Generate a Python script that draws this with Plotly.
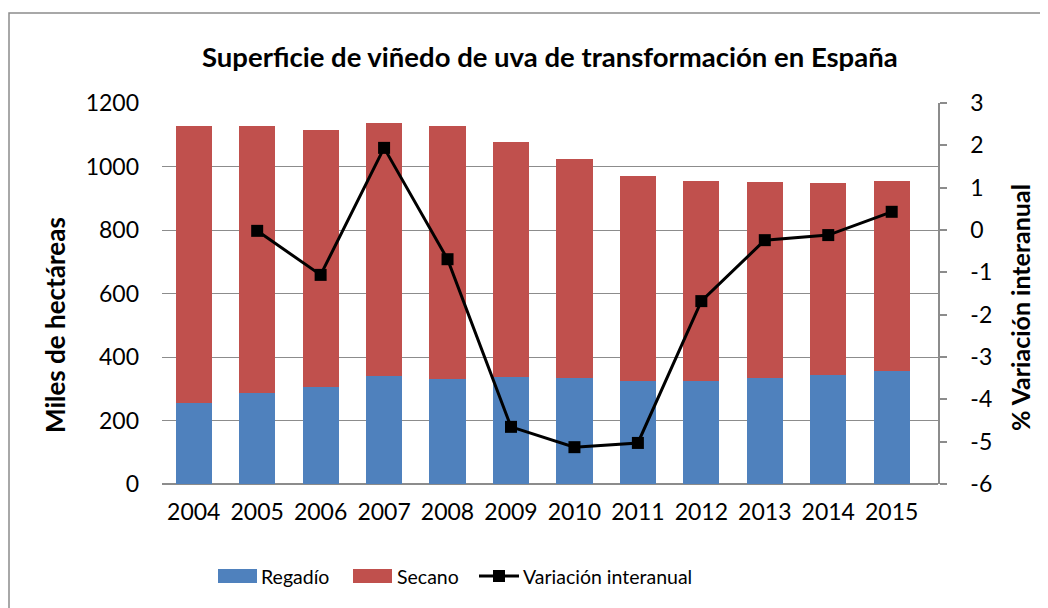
import plotly.graph_objects as go

years = ["2004", "2005", "2006", "2007", "2008", "2009", "2010", "2011", "2012", "2013", "2014", "2015"]
regadio = [255, 287, 305, 340, 331, 337, 334, 324, 324, 334, 343, 356]
total = [1128, 1128, 1115, 1137, 1128, 1077, 1024, 970, 954, 951, 948, 954]
secano = [t - r for t, r in zip(total, regadio)]
var_years = years[1:]
variacion = [-0.02, -1.06, 1.94, -0.69, -4.65, -5.13, -5.03, -1.68, -0.24, -0.12, 0.43]
y2_ticks = [3, 2, 1, 0, -1, -2, -3, -4, -5, -6]
y2_labels = ["3", "2", "1", "0", "-1", "-2", "-3", "-4", "-5", "-6"]

FONT = "Lato, Carlito, Calibri, sans-serif"
BLUE = "#4F81BD"
RED = "#C0504D"
GRID = "#8c8c8c"

# page body margin offsets the figure by 8px; figure sized to fill the window
OFF = 8
FW, FH = 1048 - OFF, 608 - OFF
# plot area in window pixels
L, R, T, B = 162, 938, 103, 484
W, H = R - L, B - T


def px(x):
    return (x - L) / W


def py(y):
    return (B - y) / H


fig = go.Figure()
fig.add_trace(go.Bar(x=years, y=regadio, name="Regadío", marker=dict(color=BLUE, line=dict(width=0))))
fig.add_trace(go.Bar(x=years, y=secano, name="Secano", marker=dict(color=RED, line=dict(width=0))))
fig.add_trace(go.Scatter(x=var_years, y=variacion, name="Variación interanual", yaxis="y2",
                         mode="lines+markers",
                         line=dict(color="black", width=3),
                         marker=dict(symbol="square", size=12, color="black")))

fig.update_layout(
    width=FW, height=FH,
    barmode="stack", bargap=0.43,
    paper_bgcolor="white", plot_bgcolor="white",
    margin=dict(l=L - OFF, r=1048 - R, t=T - OFF, b=608 - B, autoexpand=False),
    font=dict(family=FONT, size=23, color="black"),
    showlegend=False,
    xaxis=dict(showgrid=False, showline=False, ticks="", automargin=False,
               ticklabelstandoff=12, tickfont=dict(size=23)),
    yaxis=dict(range=[0, 1200], dtick=200, showgrid=True, gridcolor=GRID, gridwidth=1,
               zeroline=True, zerolinecolor=GRID, zerolinewidth=1.5,
               showline=False, ticks="", automargin=False,
               ticklabelstandoff=22, tickfont=dict(size=23)),
    yaxis2=dict(range=[-6, 3], tickmode="array", tickvals=y2_ticks, ticktext=y2_labels,
                overlaying="y", side="right", showgrid=False,
                zeroline=False, showline=True, linecolor=GRID, linewidth=1.5,
                ticks="outside", ticklen=7, tickcolor=GRID, tickwidth=1.5, automargin=False,
                ticklabelstandoff=19, tickfont=dict(size=23)),
)

annotations = [
    dict(text="<b>Superficie de viñedo de uva de transformación en España</b>",
         x=px(550), y=py(56), xanchor="center", yanchor="middle", font=dict(size=27.5)),
    dict(text="<b>Miles de hectáreas</b>", x=px(55), y=py(325), textangle=-90,
         xanchor="center", yanchor="middle", font=dict(size=26)),
    dict(text="<b>% Variación interanual</b>", x=px(1020), y=py(308), textangle=-90,
         xanchor="center", yanchor="middle", font=dict(size=25)),
    dict(text="Regadío", x=px(259), y=py(576), xanchor="left", yanchor="middle", font=dict(size=19.5)),
    dict(text="Secano", x=px(395), y=py(576), xanchor="left", yanchor="middle", font=dict(size=19.5)),
    dict(text="Variación interanual", x=px(521), y=py(576), xanchor="left", yanchor="middle", font=dict(size=19.5)),
]
for a in annotations:
    a.update(xref="paper", yref="paper", showarrow=False)
fig.update_layout(annotations=annotations)

shapes = [
    dict(type="rect", x0=px(9), x1=px(1060), y0=py(620), y1=py(13),
         line=dict(color=GRID, width=1.5), layer="below"),
    dict(type="rect", x0=px(218), x1=px(257), y0=py(583), y1=py(569),
         fillcolor=BLUE, line=dict(width=0)),
    dict(type="rect", x0=px(353), x1=px(392), y0=py(583), y1=py(569),
         fillcolor=RED, line=dict(width=0)),
    dict(type="line", x0=px(479), x1=px(519), y0=py(576), y1=py(576),
         line=dict(color="black", width=3)),
    dict(type="rect", x0=px(493), x1=px(505), y0=py(582), y1=py(570),
         fillcolor="black", line=dict(width=0)),
]
for s in shapes:
    s.update(xref="paper", yref="paper")
fig.update_layout(shapes=shapes)

fig.write_html("out.html")
